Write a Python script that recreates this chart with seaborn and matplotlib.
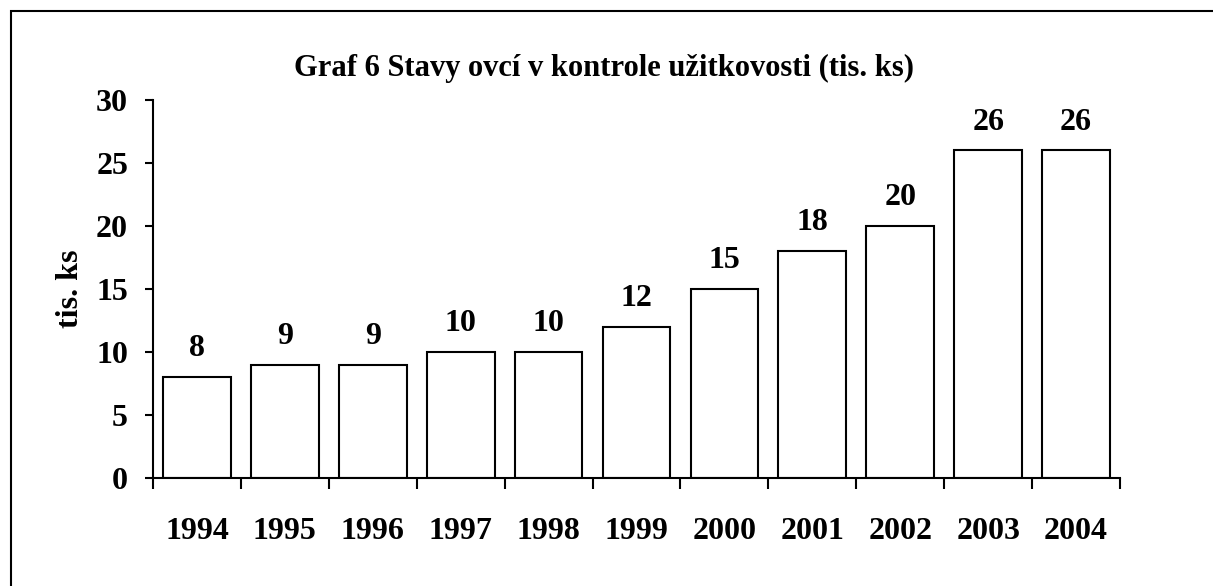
import matplotlib
matplotlib.use("Agg")
import matplotlib.pyplot as plt
import seaborn as sns
import pandas as pd
from matplotlib.patches import Rectangle
from matplotlib.ticker import FixedLocator

years = ["1994", "1995", "1996", "1997", "1998", "1999", "2000", "2001", "2002", "2003", "2004"]
values = [8, 9, 9, 10, 10, 12, 15, 18, 20, 26, 26]
yticks = [0, 5, 10, 15, 20, 25, 30]
title = "Graf 6 Stavy ovcí v kontrole užitkovosti (tis. ks)"
ylabel = "tis. ks"

sns.set_style("white")
plt.rcParams['font.family'] = ['Liberation Serif', 'DejaVu Serif']
plt.rcParams['font.weight'] = 'bold'
plt.rcParams['text.color'] = 'black'
plt.rcParams['axes.labelcolor'] = 'black'
plt.rcParams['xtick.color'] = 'black'
plt.rcParams['ytick.color'] = 'black'

df = pd.DataFrame({"year": years, "value": values})

fig = plt.figure(figsize=(12.13, 5.86), dpi=100)
fig.patch.set_facecolor("white")
ax = fig.add_axes([153/1213, 108/586, 967/1213, 378/586])

sns.barplot(data=df, x="year", y="value", color="white", edgecolor="black",
            linewidth=1.5, width=0.77, saturation=1, ax=ax)

ax.set_xlim(-0.5, len(years) - 0.5)
ax.set_ylim(0, 30)
ax.set_yticks(yticks)
ax.set_yticklabels([str(t) for t in yticks], fontsize=23, fontweight='bold')
ax.set_xticks(range(len(years)))
ax.set_xticklabels(years, fontsize=23, fontweight='bold')
ax.xaxis.set_minor_locator(FixedLocator([i - 0.5 for i in range(len(years) + 1)]))
ax.tick_params(axis='x', which='major', length=0, pad=28)
ax.tick_params(axis='x', which='minor', length=8, width=1.5, direction='out', color='black', bottom=True)
ax.tick_params(axis='y', which='major', length=6, width=1.5, direction='out', color='black', pad=12, left=True)

for s in ["top", "right"]:
    ax.spines[s].set_visible(False)
for s in ["left", "bottom"]:
    ax.spines[s].set_visible(True)
    ax.spines[s].set_color("black")
    ax.spines[s].set_linewidth(1.5)

ax.set_xlabel("")
ax.set_ylabel(ylabel, fontsize=23, fontweight='bold', labelpad=8)

for i, v in enumerate(values):
    ax.annotate(str(v), (i, v), xytext=(0, 10), textcoords="offset points",
                ha="center", va="bottom", fontsize=23, fontweight="bold")

fig.text(604/1213, 1 - 68/586, title, ha="center", va="center", fontsize=22, fontweight="bold")

fig.patches.append(Rectangle((11/1213, -0.1), 1.2, 1 - 11/586 + 0.1, transform=fig.transFigure,
                             fill=False, edgecolor="black", linewidth=1.5))

fig.savefig("out.png", dpi=100, facecolor="white")
